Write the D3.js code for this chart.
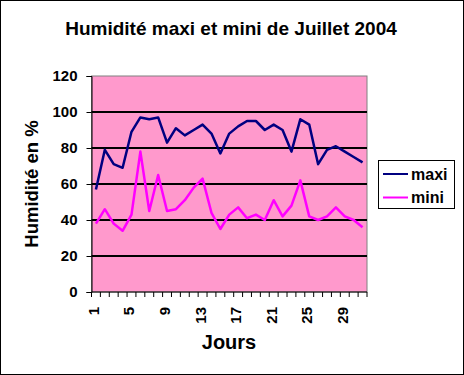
<!DOCTYPE html>
<html>
<head>
<meta charset="utf-8">
<script src="https://cdn.jsdelivr.net/npm/d3@7"></script>
<style>
  body { margin: 0; background: #fff; }
  text { font-family: "Liberation Sans", Arial, sans-serif; font-weight: bold; fill: #000; }
</style>
</head>
<body>
<svg id="chart" width="464" height="375"></svg>
<script>
// daily humidity, July 2004
const days = d3.range(1, 32);
const maxi = [57, 79, 71, 69, 89, 97, 96, 97, 83, 91, 87, 90, 93, 88, 77, 88,
              92, 95, 95, 90, 93, 90, 78, 96, 93, 71, 79, 81, 78, 75, 72];
const mini = [38, 46, 38, 34, 43, 78, 45, 65, 45, 46, 51, 58, 63, 44, 35, 43,
              47, 41, 43, 40, 51, 42, 48, 62, 42, 40, 42, 47, 42, 40, 36];
const yTicks = [0, 20, 40, 60, 80, 100, 120];
const seriesNames = ["maxi", "mini"];
const seriesColors = ["#000080", "#FF00FF"];

const svg = d3.select("#chart");
const pLeft = 91.5, pRight = 367, pTop = 76, pBottom = 292;

// outer frame
svg.append("rect").attr("x", 0.5).attr("y", 0.5).attr("width", 463).attr("height", 374)
  .attr("fill", "#fff").attr("stroke", "#000");

svg.append("text").attr("x", 231).attr("y", 35).attr("text-anchor", "middle")
  .style("font-size", "19px").text("Humidité maxi et mini de Juillet 2004");

const x = d3.scaleBand().domain(days).range([pLeft, pRight]);
const y = d3.scaleLinear().domain([0, 120]).range([pBottom, pTop]);

// plot area
svg.append("rect").attr("x", pLeft).attr("y", pTop).attr("width", pRight - pLeft).attr("height", pBottom - pTop)
  .attr("fill", "#FF99CC").attr("stroke", "#808080");

// gridlines
svg.append("g").selectAll("line").data(yTicks.filter(d => d > 0 && d < 120)).join("line")
  .attr("x1", pLeft).attr("x2", pRight).attr("y1", d => y(d)).attr("y2", d => y(d))
  .attr("stroke", "#000").attr("stroke-width", 2);

// y axis
const yAxis = svg.append("g").attr("transform", `translate(${pLeft},0)`)
  .call(d3.axisLeft(y).tickValues(yTicks).tickSize(5).tickPadding(9));
yAxis.select(".domain").attr("stroke", "#000");
yAxis.selectAll("text").style("font-size", "15px").style("font-family", "Liberation Sans, Arial").style("font-weight", "bold");

// x axis: ticks at category boundaries
const xAxis = svg.append("g").attr("transform", `translate(0,${pBottom})`);
xAxis.append("line").attr("x1", pLeft).attr("x2", pRight).attr("stroke", "#000");
xAxis.selectAll("line.tk").data(d3.range(0, 32)).join("line").attr("class", "tk")
  .attr("x1", i => pLeft + i * x.step()).attr("x2", i => pLeft + i * x.step())
  .attr("y1", 0).attr("y2", 5).attr("stroke", "#000");
xAxis.selectAll("text").data(days.filter(d => (d - 1) % 4 === 0)).join("text")
  .attr("transform", d => `translate(${x(d) + x.bandwidth() / 2 + 3},${15}) rotate(-90)`)
  .attr("text-anchor", "end").style("font-size", "15px").text(d => d);

// axis titles
svg.append("text").attr("x", 229).attr("y", 349).attr("text-anchor", "middle")
  .style("font-size", "20px").text("Jours");
svg.append("text").attr("transform", `translate(38,${(pTop + pBottom) / 2}) rotate(-90)`)
  .attr("text-anchor", "middle").style("font-size", "18.5px").text("Humidité en %");

// lines
const line = d3.line().x((d, i) => x(days[i]) + x.bandwidth() / 2).y(d => y(d));
[maxi, mini].forEach((s, k) => {
  svg.append("path").datum(s).attr("d", line).attr("fill", "none")
    .attr("stroke", seriesColors[k]).attr("stroke-width", 2.5).attr("stroke-linejoin", "round");
});

// legend
const lg = svg.append("g");
lg.append("rect").attr("x", 378.5).attr("y", 160.5).attr("width", 76).attr("height", 48)
  .attr("fill", "#fff").attr("stroke", "#000");
seriesNames.forEach((n, k) => {
  const ly = 174 + k * 23.5;
  lg.append("line").attr("x1", 383).attr("x2", 408).attr("y1", ly).attr("y2", ly)
    .attr("stroke", seriesColors[k]).attr("stroke-width", 2);
  lg.append("text").attr("x", 411).attr("y", ly + 5.5).style("font-size", "16px").text(n);
});
</script>
</body>
</html>
